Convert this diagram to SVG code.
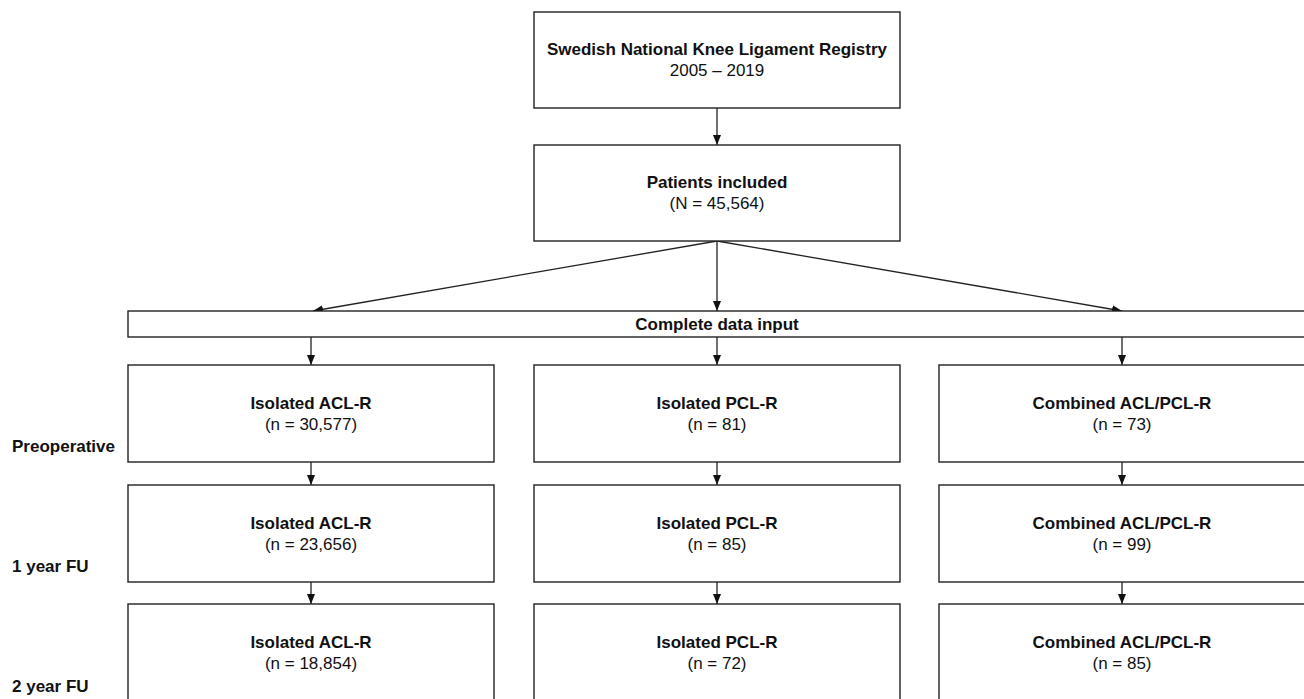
<svg xmlns="http://www.w3.org/2000/svg" width="1304" height="699" viewBox="0 0 1304 699">
<style>
.box{fill:#fff;stroke:#222;stroke-width:1.4}
.b{font-family:"Liberation Sans",Arial,sans-serif;font-size:17px;font-weight:bold;fill:#111;text-anchor:middle}
.n{font-family:"Liberation Sans",Arial,sans-serif;font-size:17px;fill:#111;text-anchor:middle}
.lab{font-family:"Liberation Sans",Arial,sans-serif;font-size:17px;font-weight:bold;fill:#111}
.c{stroke:#222;stroke-width:1.3;fill:none;marker-end:url(#ah)}
</style>
<defs>
<marker id="ah" markerUnits="userSpaceOnUse" markerWidth="10" markerHeight="8" refX="10" refY="4" orient="auto">
<path d="M0,0 L10,4 L0,8 z" fill="#111"/>
</marker>
</defs>
<rect width="1304" height="699" fill="#fff"/>
<g id="connectors">
<line class="c" x1="717" y1="108" x2="717" y2="145"/>
<line class="c" x1="717" y1="241" x2="313" y2="311"/>
<line class="c" x1="717" y1="241" x2="717" y2="311"/>
<line class="c" x1="717" y1="241" x2="1122" y2="311"/>
<line class="c" x1="311" y1="337" x2="311" y2="365"/>
<line class="c" x1="717" y1="337" x2="717" y2="365"/>
<line class="c" x1="1122" y1="337" x2="1122" y2="365"/>
<line class="c" x1="311" y1="462" x2="311" y2="485"/>
<line class="c" x1="717" y1="462" x2="717" y2="485"/>
<line class="c" x1="1122" y1="462" x2="1122" y2="485"/>
<line class="c" x1="311" y1="582" x2="311" y2="604"/>
<line class="c" x1="717" y1="582" x2="717" y2="604"/>
<line class="c" x1="1122" y1="582" x2="1122" y2="604"/>
</g>
<g id="registry">
<rect class="box" x="534" y="12" width="366" height="96"/>
<text class="b" x="717" y="55">Swedish National Knee Ligament Registry</text>
<text class="n" x="717" y="76">2005 – 2019</text>
</g>
<g id="included">
<rect class="box" x="534" y="145" width="366" height="96"/>
<text class="b" x="717" y="188">Patients included</text>
<text class="n" x="717" y="209">(N = 45,564)</text>
</g>
<g id="complete">
<rect class="box" x="128" y="311" width="1180" height="26"/>
<text class="b" x="717" y="330">Complete data input</text>
</g>
<g id="labels">
<text class="lab" x="12" y="452">Preoperative</text>
<text class="lab" x="12" y="572">1 year FU</text>
<text class="lab" x="12" y="692">2 year FU</text>
</g>
<g id="acl-pre">
<rect class="box" x="128" y="365" width="366" height="97"/>
<text class="b" x="311" y="409">Isolated ACL-R</text>
<text class="n" x="311" y="430">(n = 30,577)</text>
</g>
<g id="pcl-pre">
<rect class="box" x="534" y="365" width="366" height="97"/>
<text class="b" x="717" y="409">Isolated PCL-R</text>
<text class="n" x="717" y="430">(n = 81)</text>
</g>
<g id="comb-pre">
<rect class="box" x="939" y="365" width="366" height="97"/>
<text class="b" x="1122" y="409">Combined ACL/PCL-R</text>
<text class="n" x="1122" y="430">(n = 73)</text>
</g>
<g id="acl-1y">
<rect class="box" x="128" y="485" width="366" height="97"/>
<text class="b" x="311" y="529">Isolated ACL-R</text>
<text class="n" x="311" y="550">(n = 23,656)</text>
</g>
<g id="pcl-1y">
<rect class="box" x="534" y="485" width="366" height="97"/>
<text class="b" x="717" y="529">Isolated PCL-R</text>
<text class="n" x="717" y="550">(n = 85)</text>
</g>
<g id="comb-1y">
<rect class="box" x="939" y="485" width="366" height="97"/>
<text class="b" x="1122" y="529">Combined ACL/PCL-R</text>
<text class="n" x="1122" y="550">(n = 99)</text>
</g>
<g id="acl-2y">
<rect class="box" x="128" y="604" width="366" height="100"/>
<text class="b" x="311" y="648">Isolated ACL-R</text>
<text class="n" x="311" y="669">(n = 18,854)</text>
</g>
<g id="pcl-2y">
<rect class="box" x="534" y="604" width="366" height="100"/>
<text class="b" x="717" y="648">Isolated PCL-R</text>
<text class="n" x="717" y="669">(n = 72)</text>
</g>
<g id="comb-2y">
<rect class="box" x="939" y="604" width="366" height="100"/>
<text class="b" x="1122" y="648">Combined ACL/PCL-R</text>
<text class="n" x="1122" y="669">(n = 85)</text>
</g>
</svg>
